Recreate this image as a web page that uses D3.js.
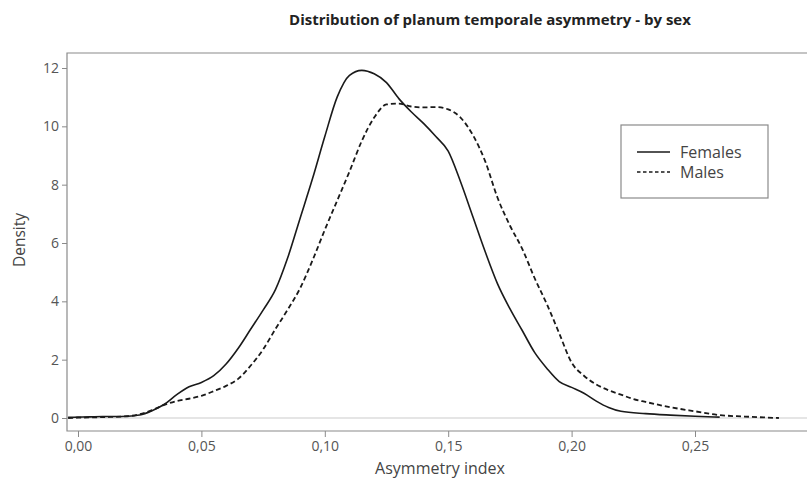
<!DOCTYPE html>
<html>
<head>
<meta charset="utf-8">
<script src="https://cdn.jsdelivr.net/npm/d3@7"></script>
<style>
  body { margin: 0; background: #fff; }
  svg { display: block; font-family: "Open Sans", sans-serif; }
</style>
</head>
<body>
<div id="chart"></div>
<script>
const xTicks = [0, 0.05, 0.10, 0.15, 0.20, 0.25];
const yTicks = [0, 2, 4, 6, 8, 10, 12];

// asymmetry index, density
const females = [
  [-0.004, 0.02], [0.000, 0.03], [0.005, 0.04], [0.010, 0.05], [0.015, 0.05],
  [0.020, 0.06], [0.025, 0.10], [0.030, 0.25], [0.035, 0.47], [0.040, 0.80],
  [0.045, 1.07], [0.050, 1.22], [0.055, 1.45], [0.060, 1.85], [0.065, 2.40],
  [0.070, 3.05], [0.075, 3.70], [0.080, 4.40], [0.085, 5.50], [0.090, 6.85],
  [0.095, 8.20], [0.100, 9.65], [0.105, 11.00], [0.110, 11.75], [0.115, 11.92],
  [0.120, 11.80], [0.125, 11.50], [0.130, 10.95], [0.135, 10.50], [0.140, 10.10],
  [0.145, 9.65], [0.150, 9.15], [0.155, 8.10], [0.160, 6.90], [0.165, 5.70],
  [0.170, 4.60], [0.175, 3.75], [0.180, 3.00], [0.185, 2.25], [0.190, 1.70],
  [0.195, 1.25], [0.200, 1.05], [0.205, 0.85], [0.210, 0.58], [0.215, 0.36],
  [0.220, 0.23], [0.230, 0.15], [0.240, 0.10], [0.250, 0.06], [0.260, 0.03]
];

const males = [
  [-0.004, 0.00], [0.000, 0.01], [0.010, 0.03], [0.020, 0.06], [0.025, 0.13],
  [0.030, 0.27], [0.035, 0.45], [0.040, 0.58], [0.045, 0.66], [0.050, 0.76],
  [0.055, 0.92], [0.060, 1.10], [0.065, 1.35], [0.070, 1.80], [0.075, 2.35],
  [0.080, 3.05], [0.085, 3.72], [0.090, 4.45], [0.095, 5.40], [0.100, 6.45],
  [0.105, 7.45], [0.110, 8.45], [0.115, 9.50], [0.120, 10.30], [0.125, 10.75],
  [0.130, 10.78], [0.135, 10.68], [0.140, 10.65], [0.145, 10.66], [0.150, 10.58],
  [0.155, 10.30], [0.160, 9.70], [0.165, 8.80], [0.170, 7.55], [0.175, 6.60],
  [0.180, 5.80], [0.185, 4.80], [0.190, 3.90], [0.195, 2.90], [0.200, 1.90],
  [0.205, 1.45], [0.210, 1.15], [0.215, 0.95], [0.220, 0.80], [0.225, 0.65],
  [0.230, 0.55], [0.240, 0.37], [0.250, 0.23], [0.260, 0.10], [0.270, 0.05],
  [0.284, 0.00]
];

const series = [
  { name: "Females", values: females, dash: null },
  { name: "Males", values: males, dash: "5,3" }
];

const width = 807;
const height = 481;
const plotLeft = 67;
const plotRight = 807;
const plotTop = 53;
const plotBottom = 431;

const svg = d3.create("svg")
  .attr("viewBox", [0, 0, width, height])
  .attr("width", width)
  .attr("height", height);

const x = d3.scaleLinear().domain([0, 0.25]).range([78, 695]);
const y = d3.scaleLinear().domain([0, 12]).range([418, 68]);

const comma = d3.formatLocale({ decimal: ",", thousands: ".", grouping: [3], currency: ["", ""] }).format(".2f");

// title
svg.append("text")
  .attr("x", 490)
  .attr("y", 25)
  .attr("text-anchor", "middle")
  .attr("font-size", 15)
  .attr("font-weight", "bold")
  .attr("fill", "#222")
  .text("Distribution of planum temporale asymmetry - by sex");

// zero reference line
svg.append("line")
  .attr("x1", plotLeft)
  .attr("x2", plotRight)
  .attr("y1", y(0))
  .attr("y2", y(0))
  .attr("stroke", "#ddd")
  .attr("stroke-width", 1.5);

// frame
svg.append("path")
  .attr("d", `M${plotRight},${plotTop}H${plotLeft}V${plotBottom}H${plotRight}`)
  .attr("fill", "none")
  .attr("stroke", "#8a8a8a")
  .attr("stroke-width", 1.2);

// x axis
const xAxis = svg.append("g")
  .attr("transform", `translate(0,${plotBottom})`)
  .call(d3.axisBottom(x).tickValues(xTicks).tickFormat(comma).tickSize(6).tickPadding(4));
xAxis.select(".domain").remove();

// y axis
const yAxis = svg.append("g")
  .attr("transform", `translate(${plotLeft},0)`)
  .call(d3.axisLeft(y).tickValues(yTicks).tickSize(5).tickPadding(3));
yAxis.select(".domain").remove();

svg.selectAll(".tick line").attr("stroke", "#8a8a8a");
svg.selectAll(".tick text")
  .attr("fill", "#555")
  .attr("font-size", 14)
  .attr("font-family", "Open Sans, sans-serif");

// axis titles
svg.append("text")
  .attr("x", 440)
  .attr("y", 474)
  .attr("text-anchor", "middle")
  .attr("font-size", 16)
  .attr("fill", "#444")
  .text("Asymmetry index");

svg.append("text")
  .attr("transform", `translate(25,240) rotate(-90)`)
  .attr("text-anchor", "middle")
  .attr("font-size", 15.5)
  .attr("fill", "#444")
  .text("Density");

// curves
const line = d3.line()
  .x((d) => x(d[0]))
  .y((d) => y(d[1]))
  .curve(d3.curveMonotoneX);

svg.append("g")
  .selectAll("path")
  .data(series)
  .join("path")
  .attr("d", (d) => line(d.values))
  .attr("fill", "none")
  .attr("stroke", "#1a1a1a")
  .attr("stroke-width", (d) => (d.dash ? 1.8 : 1.6))
  .attr("stroke-dasharray", (d) => d.dash);

// legend
const legend = svg.append("g");
legend.append("rect")
  .attr("x", 621)
  .attr("y", 125)
  .attr("width", 147)
  .attr("height", 73)
  .attr("fill", "#fff")
  .attr("stroke", "#8a8a8a")
  .attr("stroke-width", 1.2);

const items = legend.selectAll("g.item")
  .data(series)
  .join("g")
  .attr("class", "item")
  .attr("transform", (d, i) => `translate(0,${152 + i * 20})`);

items.append("line")
  .attr("x1", 637)
  .attr("x2", 670)
  .attr("stroke", "#1a1a1a")
  .attr("stroke-width", 1.4)
  .attr("stroke-dasharray", (d) => (d.dash ? "3.5,2.5" : null));

items.append("text")
  .attr("x", 680)
  .attr("dy", "0.35em")
  .attr("font-size", 16)
  .attr("fill", "#444")
  .text((d) => d.name);

d3.select("#chart").append(() => svg.node());
</script>
</body>
</html>
